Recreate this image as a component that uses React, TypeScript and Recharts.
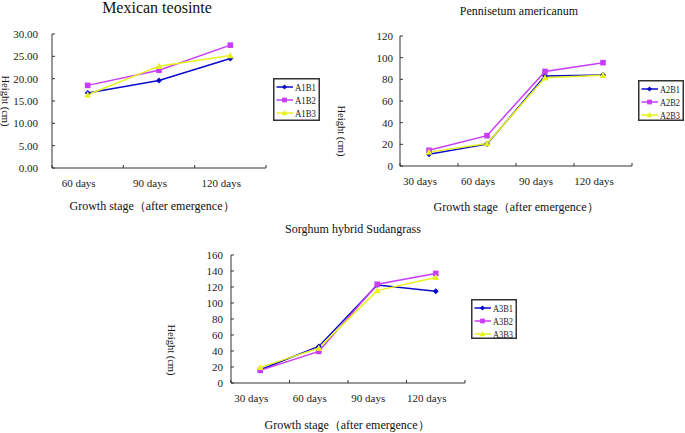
import { LineChart, Line, XAxis, YAxis, Legend } from "recharts";

// growth stages (categories)
const teosinteStages = ["60 days", "90 days", "120 days"];
const stages = ["30 days", "60 days", "90 days", "120 days"];

// plant height (cm) per treatment
const a1b1 = [16.8, 19.6, 24.5];
const a1b2 = [18.5, 21.9, 27.5];
const a1b3 = [16.4, 22.8, 25.2];

const a2b1 = [10.8, 20.2, 83.0, 84.0];
const a2b2 = [14.5, 28.0, 87.3, 95.4];
const a2b3 = [12.8, 20.7, 81.5, 83.8];

const a3b1 = [16.6, 45.7, 122.6, 114.7];
const a3b2 = [15.8, 39.5, 123.4, 137.0];
const a3b3 = [19.5, 43.6, 115.5, 132.0];

// y tick labels
const teosinteTicks = [0, 5, 10, 15, 20, 25, 30];
const pennisetumTicks = [0, 20, 40, 60, 80, 100, 120];
const sorghumTicks = [0, 20, 40, 60, 80, 100, 120, 140, 160];

const BLUE = "#0a0acc";
const VIOLET = "#c93cf9";
const YELLOW = "#e6f21a";
const FONT = "'Liberation Serif', 'DejaVu Serif', serif";

type Shape = "diamond" | "square" | "triangle";

const makeRows = (cats: string[], b1: number[], b2: number[], b3: number[]) =>
  cats.map((stage, i) => ({ stage, B1: b1[i], B2: b2[i], B3: b3[i] }));

const makeSeries = (prefix: string) => [
  { key: "B1", name: `${prefix}B1`, color: BLUE, shape: "diamond" as Shape },
  { key: "B2", name: `${prefix}B2`, color: VIOLET, shape: "square" as Shape },
  { key: "B3", name: `${prefix}B3`, color: YELLOW, shape: "triangle" as Shape },
];

function Marker({ cx, cy, shape, color, size = 1 }: any) {
  if (cx == null || cy == null) return null;
  if (shape === "diamond") {
    const r = 3 * size;
    return <path d={`M${cx},${cy - r}L${cx + r},${cy}L${cx},${cy + r}L${cx - r},${cy}Z`} fill={color} />;
  }
  if (shape === "square") {
    const r = 2.8 * size;
    return <rect x={cx - r} y={cy - r} width={r * 2} height={r * 2} fill={color} />;
  }
  const r = 3.4 * size;
  return <path d={`M${cx},${cy - r}L${cx + r},${cy + r * 0.8}L${cx - r},${cy + r * 0.8}Z`} fill={color} />;
}

function StageTick(props: any) {
  const { x, y, payload, index, band, count } = props;
  const half = band / 2;
  return (
    <g>
      <line x1={x - half} y1={y} x2={x - half} y2={y - 3} stroke="#333" />
      {index === count - 1 && <line x1={x + half} y1={y} x2={x + half} y2={y - 3} stroke="#333" />}
      <text x={x - 9} y={y + 19} textAnchor="middle" fontSize={11} fontFamily={FONT} fill="#222">
        {payload.value}
      </text>
    </g>
  );
}

function LegendBox({ payload, series, width, height }: any) {
  return (
    <svg width={width} height={height}>
      <rect x={0.75} y={0.75} width={width - 1.5} height={height - 1.5} fill="#fff" stroke="#333" strokeWidth={1.5} />
      {(payload || []).map((item: any, i: number) => {
        const s = series.find((d: any) => d.name === item.value) || series[i];
        const y = 9 + i * 13;
        return (
          <g key={s.name}>
            <line x1={3.5} y1={y} x2={20} y2={y} stroke={s.color} strokeWidth={1.5} />
            <Marker cx={11.5} cy={y} shape={s.shape} color={s.color} size={0.85} />
            <text
              x={22}
              y={y + 3.5}
              fontSize={9.5}
              fontFamily={FONT}
              fill="#222"
              textLength={width - 26}
              lengthAdjust="spacingAndGlyphs"
            >
              {s.name}
            </text>
          </g>
        );
      })}
    </svg>
  );
}

function GrowthChart(props: any) {
  const { rows, series, ticks, decimals, box, yWidth, margin, tickGap, legend } = props;
  const plotWidth = box.width - yWidth - margin.right;
  const band = plotWidth / rows.length;
  return (
    <div style={{ position: "absolute", left: box.left, top: box.top }}>
      <LineChart width={box.width} height={box.height} data={rows} margin={margin}>
        <XAxis
          dataKey="stage"
          height={20}
          interval={0}
          padding={{ left: band / 2, right: band / 2 }}
          axisLine={{ stroke: "#333" }}
          tickLine={false}
          tickSize={0}
          tickMargin={0}
          tick={<StageTick band={band} count={rows.length} />}
        />
        <YAxis
          width={yWidth}
          domain={[ticks[0], ticks[ticks.length - 1]]}
          ticks={ticks}
          interval={0}
          tickFormatter={(v: number) => v.toFixed(decimals)}
          axisLine={{ stroke: "#333" }}
          tickLine={{ stroke: "#333" }}
          tickSize={-3}
          tickMargin={tickGap + 3}
          tick={{ fontSize: 11, fontFamily: FONT, fill: "#222" }}
        />
        <Legend
          layout="vertical"
          align="center"
          verticalAlign="middle"
          wrapperStyle={{ left: legend.left, top: legend.top, width: legend.width, height: legend.height }}
          content={(p: any) => (
            <LegendBox payload={p.payload} series={series} width={legend.width} height={legend.height} />
          )}
        />
        {series.map((s: any) => (
          <Line
            key={s.key}
            dataKey={s.key}
            name={s.name}
            stroke={s.color}
            strokeWidth={1.5}
            isAnimationActive={false}
            dot={(d: any) => <Marker key={`${s.key}-${d.index}`} cx={d.cx} cy={d.cy} shape={s.shape} color={s.color} />}
            activeDot={false}
          />
        ))}
      </LineChart>
    </div>
  );
}

function Title({ x, y, size, children }: any) {
  return (
    <text x={x} y={y} textAnchor="middle" fontSize={size} fontFamily={FONT} fill="#111">
      {children}
    </text>
  );
}

function YTitle({ x, y }: any) {
  return (
    <text
      transform={`translate(${x},${y}) rotate(90)`}
      textAnchor="middle"
      dominantBaseline="central"
      fontSize={10.5}
      fontFamily={FONT}
      fill="#111"
    >
      Height (cm)
    </text>
  );
}

const X_TITLE = "Growth  stage（after emergence）";

export default function App() {
  return (
    <div style={{ position: "absolute", left: 0, top: 0, width: 685, height: 433, background: "#fff", overflow: "hidden" }}>
      <GrowthChart
        rows={makeRows(teosinteStages, a1b1, a1b2, a1b3)}
        series={makeSeries("A1")}
        ticks={teosinteTicks}
        decimals={2}
        box={{ left: 0, top: 0, width: 325, height: 215 }}
        yWidth={52}
        margin={{ top: 34, right: 59, bottom: 27, left: 0 }}
        tickGap={14}
        legend={{ left: 273, top: 78, width: 47, height: 43 }}
      />
      <GrowthChart
        rows={makeRows(stages, a2b1, a2b2, a2b3)}
        series={makeSeries("A2")}
        ticks={pennisetumTicks}
        decimals={0}
        box={{ left: 328, top: 0, width: 357, height: 215 }}
        yWidth={72}
        margin={{ top: 36, right: 53, bottom: 29, left: 0 }}
        tickGap={7}
        legend={{ left: 310, top: 80, width: 46, height: 41 }}
      />
      <GrowthChart
        rows={makeRows(stages, a3b1, a3b2, a3b3)}
        series={makeSeries("A3")}
        ticks={sorghumTicks}
        decimals={0}
        box={{ left: 150, top: 220, width: 370, height: 213 }}
        yWidth={81}
        margin={{ top: 35, right: 55, bottom: 30, left: 0 }}
        tickGap={8}
        legend={{ left: 321, top: 79, width: 46, height: 40 }}
      />
      <svg width={685} height={433} style={{ position: "absolute", left: 0, top: 0, pointerEvents: "none" }}>
        <Title x={157} y={13} size={16}>Mexican teosinte</Title>
        <Title x={519} y={15} size={12}>Pennisetum americanum</Title>
        <Title x={353} y={233} size={12}>Sorghum hybrid Sudangrass</Title>
        <Title x={152} y={210} size={12}>{X_TITLE}</Title>
        <Title x={516} y={211} size={12}>{X_TITLE}</Title>
        <Title x={347} y={429} size={12}>{X_TITLE}</Title>
        <YTitle x={5} y={101} />
        <YTitle x={341} y={131} />
        <YTitle x={171} y={350} />
      </svg>
    </div>
  );
}
